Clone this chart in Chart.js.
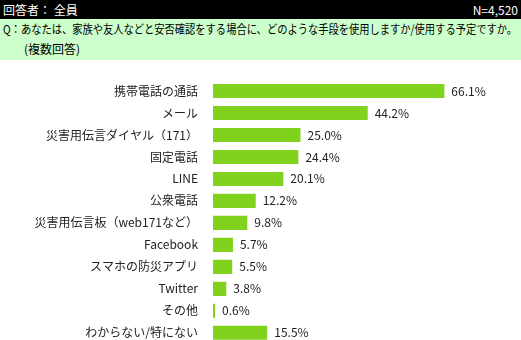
<!DOCTYPE html>
<html>
<head>
<meta charset="utf-8">
<script src="https://cdn.jsdelivr.net/npm/chart.js@4"></script>
<style>
  body { margin: 0; width: 521px; height: 340px; overflow: hidden; background: #fff; font-family: "Noto Sans CJK JP", sans-serif; }
  #head { position: absolute; left: 0; top: 0; width: 521px; height: 19px; background: #000; color: #fff; font-size: 12px; line-height: 19px; }
  #head .l { position: absolute; left: 3px; }
  #head .r { position: absolute; right: 3px; }
  #q { position: absolute; left: 0; top: 19px; width: 521px; height: 41px; background: #ccffcc; color: #000; font-size: 12px; line-height: 20px; }
  #q .l1 { position: absolute; left: 3px; top: 0px; white-space: nowrap; transform-origin: left center; }
  #q .l2 { position: absolute; left: 24px; top: 20px; }
  #wrap { position: absolute; left: 0; top: 60px; width: 521px; height: 298px; }
</style>
</head>
<body>
<div id="head"><span class="l">回答者： 全員</span><span class="r">N=4,520</span></div>
<div id="q"><span class="l1" id="q1">Q：あなたは、家族や友人などと安否確認をする場合に、どのような手段を使用しますか/使用する予定ですか。</span><span class="l2">(複数回答)</span></div>
<div id="wrap"><canvas id="c" width="521" height="298"></canvas></div>
<script>
const labels = ['携帯電話の通話', 'メール', '災害用伝言ダイヤル（171）', '固定電話', 'LINE', '公衆電話',
  '災害用伝言板（web171など）', 'Facebook', 'スマホの防災アプリ', 'Twitter', 'その他', 'わからない/特にない'];
const values = [66.1, 44.2, 25.0, 24.4, 20.1, 12.2, 9.8, 5.7, 5.5, 3.8, 0.6, 15.5];

// 設問文を1行に収める
const q1 = document.getElementById('q1');
q1.style.transform = 'scaleX(' + (514 / q1.offsetWidth) + ')';

// 値ラベル
const valueLabels = {
  id: 'valueLabels',
  afterDatasetsDraw(chart) {
    const ctx = chart.ctx;
    ctx.save();
    ctx.font = '12px "Noto Sans CJK JP", sans-serif';
    ctx.fillStyle = '#222';
    ctx.textBaseline = 'middle';
    chart.getDatasetMeta(0).data.forEach((bar, i) => {
      ctx.fillText(values[i].toFixed(1) + '%', bar.x + 7, bar.y);
    });
    ctx.restore();
  }
};

new Chart(document.getElementById('c'), {
  type: 'bar',
  data: {
    labels,
    datasets: [{
      data: values,
      backgroundColor: '#80d21c',
      barPercentage: 0.64,
      categoryPercentage: 1
    }]
  },
  options: {
    indexAxis: 'y',
    responsive: false,
    animation: false,
    layout: { padding: { top: 20, bottom: 6, left: 0, right: 0 } },
    plugins: { legend: { display: false }, tooltip: { enabled: false } },
    scales: {
      x: { display: false, min: 0, max: 88 },
      y: {
        grid: { display: false },
        border: { display: false },
        ticks: { color: '#222', padding: 7, font: { size: 12, family: '"Noto Sans CJK JP", sans-serif' } },
        afterFit(scale) { scale.width = 213; }
      }
    }
  },
  plugins: [valueLabels]
});
</script>
</body>
</html>
